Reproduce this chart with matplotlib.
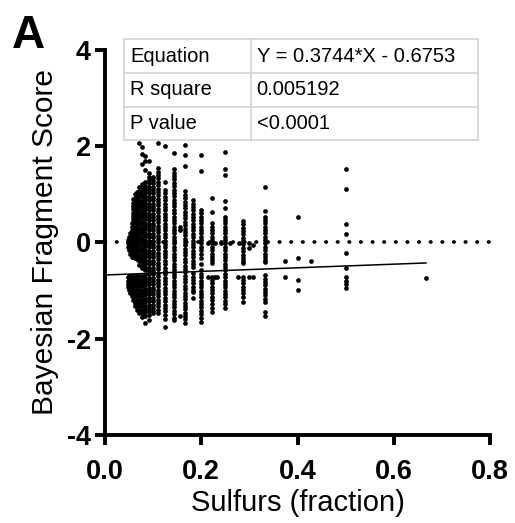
import matplotlib
matplotlib.use("Agg")
import matplotlib.pyplot as plt
from matplotlib.patches import Rectangle

plt.rcParams['font.family'] = ['Liberation Sans', 'DejaVu Sans']

# ---------------- data ----------------
# x positions of the point columns (sulfur fraction)
col_x = [0.0476, 0.0500, 0.0526, 0.0556, 0.0588, 0.0625, 0.0667, 0.0714,
         0.0769, 0.0833, 0.0909, 0.1000, 0.1111, 0.1250, 0.1429, 0.1667,
         0.1818, 0.2000, 0.2222, 0.2500, 0.2857, 0.3333, 0.5000, 0.6667]

y_w21 = [0.05, -0.02, -0.09, -0.72, -0.79, -0.86, -0.93]
y_w20 = [0.12, 0.05, -0.02, -0.09, -0.16, -0.70, -0.77, -0.84, -0.91, -0.98]
y_w19 = [0.19, 0.12, 0.05, -0.02, -0.09, -0.16, -0.23, -0.70, -0.77, -0.84,
         -0.91, -0.98, -1.05]
y_w18 = [0.40, 0.33, 0.26, 0.19, 0.12, 0.05, -0.02, -0.09, -0.16, -0.23, -0.30,
         -0.70, -0.77, -0.84, -0.91, -0.98, -1.05, -1.12]
y_w17 = [0.90, 0.83, 0.76, 0.69, 0.62, 0.55, 0.48, 0.41, 0.34, 0.27, 0.20, 0.13,
         0.06, -0.01, -0.08, -0.15, -0.22, -0.29, -0.70, -0.77, -0.84, -0.91,
         -0.98, -1.05, -1.12, -1.19]
y_w16 = [1.00, 0.93, 0.86, 0.79, 0.72, 0.65, 0.58, 0.51, 0.44, 0.37, 0.30, 0.23,
         0.16, 0.09, 0.02, -0.05, -0.12, -0.19, -0.26, -0.33, -0.70, -0.77, -0.84,
         -0.91, -0.98, -1.05, -1.12, -1.19, -1.26, -1.33]
y_w15 = [1.05, 0.98, 0.91, 0.84, 0.77, 0.70, 0.63, 0.56, 0.49, 0.42, 0.35, 0.28,
         0.21, 0.14, 0.07, 0.00, -0.07, -0.14, -0.21, -0.28, -0.35, -0.70, -0.77,
         -0.84, -0.91, -0.98, -1.05, -1.12, -1.19, -1.26, -1.33, -1.40]
y_w14 = [2.06, 1.15, 1.08, 1.01, 0.94, 0.87, 0.80, 0.73, 0.66, 0.59, 0.52, 0.45,
         0.38, 0.31, 0.24, 0.17, 0.10, 0.03, -0.04, -0.11, -0.18, -0.25, -0.32,
         -0.39, -0.46, -0.70, -0.77, -0.84, -0.91, -0.98, -1.05, -1.12, -1.19,
         -1.26, -1.33, -1.40, -1.47]
y_w13 = [1.98, 1.84, 1.64, 1.22, 1.15, 1.08, 1.01, 0.94, 0.87, 0.80, 0.73, 0.66,
         0.59, 0.52, 0.45, 0.38, 0.31, 0.24, 0.17, 0.10, 0.03, -0.04, -0.11, -0.18,
         -0.25, -0.32, -0.39, -0.46, -0.53, -0.70, -0.77, -0.84, -0.91, -0.98,
         -1.05, -1.12, -1.19, -1.26, -1.33, -1.40, -1.47, -1.54]
y_w12 = [1.79, 1.69, 1.51, 1.25, 1.18, 1.11, 1.04, 0.97, 0.90, 0.83, 0.76, 0.69,
         0.62, 0.55, 0.48, 0.41, 0.34, 0.27, 0.20, 0.13, 0.06, -0.01, -0.08, -0.15,
         -0.22, -0.29, -0.36, -0.43, -0.50, -0.57, -0.68, -0.75, -0.82, -0.89,
         -0.96, -1.03, -1.10, -1.17, -1.24, -1.31, -1.38, -1.45, -1.52, -1.68]
y_w11 = [1.69, 1.44, 1.37, 1.30, 1.23, 1.16, 1.09, 1.02, 0.95, 0.88, 0.81, 0.74,
         0.67, 0.60, 0.53, 0.46, 0.39, 0.32, 0.25, 0.18, 0.11, 0.04, -0.03, -0.10,
         -0.17, -0.24, -0.31, -0.38, -0.45, -0.52, -0.59, -0.66, -0.73, -0.80,
         -0.87, -0.94, -1.01, -1.08, -1.15, -1.22, -1.29, -1.36, -1.43, -1.50,
         -1.61]
y_c10 = [1.37, 1.30, 1.23, 1.16, 1.09, 1.02, 0.95, 0.88, 0.81, 0.74, 0.67, 0.60,
         0.53, 0.46, 0.39, 0.32, 0.25, 0.18, 0.11, 0.04, -0.03, -0.10, -0.17,
         -0.24, -0.31, -0.38, -0.45, -0.52, -0.59, -0.66, -0.73, -0.80, -0.87,
         -0.94, -1.01, -1.08, -1.15, -1.22, -1.29, -1.36, -1.43, -1.47]
y_c9 = [2.06, 1.54, 1.47, 1.40, 1.33, 1.26, 1.19, 1.12, 1.05, 0.98, 0.91, 0.84,
        0.77, 0.70, 0.63, 0.56, 0.49, 0.42, 0.35, 0.28, 0.21, 0.14, 0.07, 0.00,
        -0.07, -0.14, -0.21, -0.28, -0.35, -0.42, -0.49, -0.56, -0.63, -0.70,
        -0.77, -0.84, -0.91, -0.98, -1.05, -1.12, -1.19, -1.26, -1.33, -1.40,
        -1.47]
y_c8 = [2.00, 1.26, 1.09, 1.02, 0.95, 0.88, 0.81, 0.74, 0.67, 0.60, 0.53, 0.46,
        0.39, 0.32, 0.25, 0.18, 0.11, 0.04, -0.03, -0.10, -0.17, -0.24, -0.31,
        -0.38, -0.45, -0.52, -0.59, -0.66, -0.73, -0.80, -0.87, -0.94, -1.01,
        -1.08, -1.15, -1.22, -1.29, -1.36, -1.43, -1.50, -1.58, -1.75]
y_c7 = [1.85, 1.52, 1.45, 1.38, 1.31, 1.24, 1.17, 1.10, 1.03, 0.96, 0.89, 0.82,
        0.75, 0.68, 0.61, 0.54, 0.47, 0.40, 0.33, 0.26, 0.19, 0.12, 0.05, -0.02,
        -0.09, -0.16, -0.23, -0.30, -0.37, -0.44, -0.51, -0.58, -0.65, -0.72,
        -0.79, -0.86, -0.93, -1.00, -1.07, -1.14, -1.21, -1.28, -1.35, -1.42,
        -1.49, -1.56, -1.61]
y_c6 = [2.03, 1.82, 1.58, 1.06, 0.99, 0.92, 0.85, 0.78, 0.71, 0.64, 0.57, 0.50,
        0.43, 0.36, 0.29, 0.22, 0.15, 0.08, 0.01, -0.06, -0.13, -0.20, -0.27,
        -0.34, -0.41, -0.48, -0.55, -0.62, -0.69, -0.76, -0.83, -0.90, -0.97,
        -1.04, -1.11, -1.18, -1.25, -1.32, -1.39, -1.46, -1.53, -1.60, -1.68]
y_c2_11 = [0.88, 0.81, 0.74, 0.67, 0.60, 0.53, 0.46, 0.39, 0.32, 0.25, 0.18,
           0.11, 0.04, -0.03, -0.10, -0.17, -0.24, -0.31, -0.38, -0.45, -0.50,
           -0.64, -0.71, -0.78, -0.85, -0.92, -0.99, -1.02, -1.16]
y_c5 = [1.82, 1.49, 0.68, 0.61, 0.54, 0.47, 0.40, 0.33, 0.26, 0.19, 0.12, 0.05,
        -0.02, -0.09, -0.16, -0.23, -0.33, -0.44, -0.58, -0.65, -0.72, -0.79,
        -0.86, -0.93, -1.00, -1.07, -1.14, -1.21, -1.28, -1.35, -1.42, -1.49,
        -1.56, -1.65]
y_c2_9 = [0.92, 0.64, 0.40, 0.33, 0.26, 0.19, 0.12, 0.05, -0.02, -0.09, -0.16,
          -0.23, -0.30, -0.37, -0.43, -0.71, -0.78, -0.85, -0.92, -0.99, -1.06,
          -1.13, -1.20, -1.27, -1.36, -1.44]
y_c4 = [1.89, 1.52, 1.40, 0.87, 0.71, 0.54, 0.47, 0.40, 0.33, 0.26, 0.19, 0.12,
        0.05, -0.02, -0.09, -0.16, -0.23, -0.30, -0.37, -0.44, -0.51, -0.58,
        -0.65, -0.72, -0.79, -0.86, -0.93, -1.00, -1.07, -1.14, -1.21, -1.28,
        -1.37]
y_c2_7 = [0.45, 0.38, 0.31, 0.24, 0.17, 0.10, 0.03, -0.04, -0.11, -0.18, -0.25,
          -0.32, -0.39, -0.43, -0.71, -0.78, -0.85, -0.92, -0.99, -1.06, -1.13,
          -1.23]
y_c3 = [1.16, 0.66, 0.54, 0.47, 0.40, 0.33, 0.26, 0.19, 0.12, 0.05, -0.02,
        -0.09, -0.16, -0.23, -0.30, -0.37, -0.40, -0.68, -0.75, -0.82, -0.89,
        -0.96, -1.03, -1.10, -1.17, -1.23, -1.44, -1.52]
y_c2 = [1.53, 1.11, 0.38, 0.17, -0.21, -0.54, -0.71, -0.79, -0.87, -0.95]
y_c2_3 = [-0.74]

col_y = [y_w21, y_w20, y_w19, y_w18, y_w17, y_w16, y_w15, y_w14, y_w13, y_w12,
         y_w11, y_c10, y_c9, y_c8, y_c7, y_c6, y_c2_11, y_c5, y_c2_9, y_c4,
         y_c2_7, y_c3, y_c2, y_c2_3]

# scattered single points
extra_x = [0.214, 0.229, 0.214, 0.229, 0.233, 0.240, 0.260, 0.276, 0.300,
           0.308, 0.278, 0.300, 0.308, 0.300, 0.156, 0.156, 0.156, 0.375,
           0.375, 0.400, 0.400, 0.400, 0.400, 0.429]
extra_y = [-0.02, -0.02, -0.71, -0.71, -0.71, -0.02, -0.02, -0.71, -0.71,
           -0.71, -0.02, -0.02, -0.05, -0.12, 0.33, 0.26, -1.52, -0.385,
           -0.72, 0.53, -0.33, -0.77, -0.98, -0.38]

# linear regression
reg_slope = 0.3744
reg_intercept = -0.6753
reg_x_range = [0.005, 0.667]

# table
table_rows = [["Equation", "Y = 0.3744*X - 0.6753"],
              ["R square", "0.005192"],
              ["P value", "<0.0001"]]

x_ticks = [0.0, 0.2, 0.4, 0.6, 0.8]
x_ticklabels = ["0.0", "0.2", "0.4", "0.6", "0.8"]
y_ticks = [-4, -2, 0, 2, 4]
y_ticklabels = ["-4", "-2", "0", "2", "4"]

# ---------------- figure ----------------
fig = plt.figure(figsize=(5.15, 5.23), dpi=100)
ax = fig.add_axes([0.2039, 0.1683, 0.7476, 0.7361])

MS = 3.4
for x, ys in zip(col_x, col_y):
    ax.plot([x] * len(ys), ys, linestyle='none', marker='o', ms=MS,
            mew=0, color='black', zorder=3)
ax.plot(extra_x, extra_y, linestyle='none', marker='o', ms=MS, mew=0,
        color='black', zorder=3)

# dotted zero line
ax.plot([0.0, 0.8], [0, 0], color='black', lw=2.7,
        linestyle=(0, (0.1, 3.0)), dash_capstyle='round', zorder=2,
        clip_on=False)

# regression line
rx = reg_x_range
ry = [reg_slope * v + reg_intercept for v in rx]
ax.plot(rx, ry, color='black', lw=1.1, zorder=4)

ax.set_xlim(0, 0.8)
ax.set_ylim(-4, 4)
ax.set_xticks(x_ticks)
ax.set_xticklabels(x_ticklabels, fontsize=19.5, fontweight='bold')
ax.set_yticks(y_ticks)
ax.set_yticklabels(y_ticklabels, fontsize=19.5, fontweight='bold')
for s in ['top', 'right']:
    ax.spines[s].set_visible(False)
for s in ['left', 'bottom']:
    ax.spines[s].set_linewidth(2.8)
    ax.spines[s].set_capstyle('projecting')
ax.tick_params(axis='both', direction='out', length=7, width=2.8, color='black')
ax.tick_params(axis='x', pad=10)
ax.tick_params(axis='y', pad=3)

ax.set_xlabel("Sulfurs (fraction)", fontsize=21, labelpad=3)
ax.set_ylabel("Bayesian Fragment Score", fontsize=21.5, labelpad=6)

# table drawn in data coordinates
tx0, tx1, tx2 = 0.039, 0.303, 0.775
ty = [4.22, 3.53, 2.82, 2.13]
ax.add_patch(Rectangle((tx0, ty[3]), tx2 - tx0, ty[0] - ty[3],
                       facecolor='white', edgecolor='#d3d3d3', lw=1.2,
                       zorder=6, clip_on=False))
for yy in ty[1:3]:
    ax.plot([tx0, tx2], [yy, yy], color='#d3d3d3', lw=1.2, zorder=7,
            clip_on=False)
ax.plot([tx1, tx1], [ty[3], ty[0]], color='#d3d3d3', lw=1.2, zorder=7,
        clip_on=False)
for i, (a, b) in enumerate(table_rows):
    yc = (ty[i] + ty[i + 1]) / 2
    ax.text(tx0 + 0.013, yc, a, fontsize=14.5, va='center', ha='left',
            zorder=8, clip_on=False)
    ax.text(tx1 + 0.012, yc, b, fontsize=14.5, va='center', ha='left',
            zorder=8, clip_on=False)

fig.text(12 / 515, 1 - 48 / 523, "A", fontsize=33, fontweight='bold',
         ha='left', va='baseline')

fig.savefig("out.png", dpi=100, facecolor='white')
